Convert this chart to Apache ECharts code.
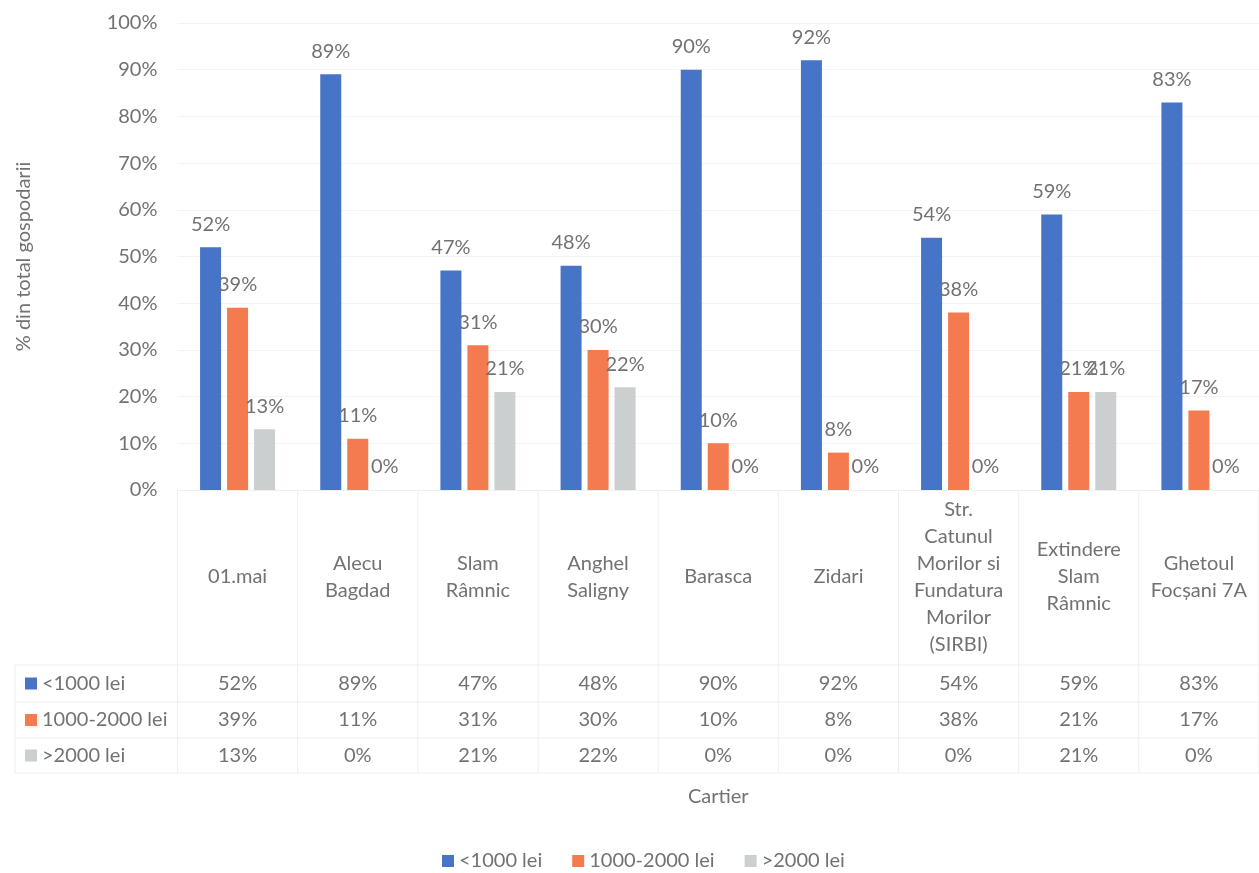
<!DOCTYPE html>
<html>
<head>
<meta charset="utf-8">
<script src="https://cdn.jsdelivr.net/npm/echarts@6/dist/echarts.min.js"></script>
<style>
  html, body { margin: 0; padding: 0; background: #fff; }
  #chart { width: 1259px; height: 873px; }
</style>
</head>
<body>
<div id="chart"></div>
<script>
const categories = ['01.mai', 'Alecu\nBagdad', 'Slam\nRâmnic', 'Anghel\nSaligny', 'Barasca', 'Zidari',
  'Str.\nCatunul\nMorilor si\nFundatura\nMorilor\n(SIRBI)', 'Extindere\nSlam\nRâmnic', 'Ghetoul\nFocșani 7A'];
const seriesNames = ['<1000 lei', '1000-2000 lei', '>2000 lei'];
const under1000 = [52, 89, 47, 48, 90, 92, 54, 59, 83];
const from1000to2000 = [39, 11, 31, 30, 10, 8, 38, 21, 17];
const over2000 = [13, 0, 21, 22, 0, 0, 0, 21, 0];
const seriesValues = [under1000, from1000to2000, over2000];
const yMin = 0, yMax = 100, yInterval = 10;
const yAxisTitle = '% din total gospodarii';
const xAxisTitle = 'Cartier';

const colors = ['#4674C6', '#F47A50', '#CBCFCF'];
const textColor = '#727272';
const fontFamily = 'Lato, "Open Sans", sans-serif';
const fs = 20;

const chart = echarts.init(document.getElementById('chart'), null, { renderer: 'canvas' });

const series = seriesNames.map((name, i) => ({
  name: name,
  type: 'bar',
  data: seriesValues[i],
  barWidth: 21,
  barGap: '28.6%',
  itemStyle: { color: colors[i] },
  label: {
    show: true,
    position: 'top',
    distance: 13,
    formatter: p => p.value + '%',
    color: textColor,
    fontFamily: fontFamily,
    fontSize: fs
  }
}));

chart.setOption({
  animation: false,
  textStyle: { fontFamily: fontFamily },
  grid: { left: 177.5, right: -12, top: 23, bottom: 383, containLabel: false },
  xAxis: {
    type: 'category',
    data: categories,
    axisLine: { show: true, lineStyle: { color: '#efefef' } },
    axisTick: { show: false },
    axisLabel: {
      interval: 0,
      margin: 87,
      verticalAlign: 'middle',
      lineHeight: 27,
      color: textColor,
      fontFamily: fontFamily,
      fontSize: fs
    },
    name: xAxisTitle,
    nameLocation: 'middle',
    nameGap: 297,
    nameTextStyle: { color: textColor, fontFamily: fontFamily, fontSize: fs }
  },
  yAxis: {
    type: 'value',
    min: yMin, max: yMax, interval: yInterval,
    axisLine: { show: false },
    axisTick: { show: false },
    splitLine: { lineStyle: { color: '#f3f3f3' } },
    axisLabel: {
      formatter: v => v + '%',
      margin: 20,
      color: textColor,
      fontFamily: fontFamily,
      fontSize: fs
    },
    name: yAxisTitle,
    nameLocation: 'middle',
    nameGap: 144,
    nameRotate: 90,
    nameTextStyle: { color: textColor, fontFamily: fontFamily, fontSize: fs }
  },
  legend: {
    data: seriesNames,
    bottom: -3,
    left: 437,
    itemWidth: 12,
    itemHeight: 12,
    itemGap: 30,
    icon: 'rect',
    textStyle: { color: textColor, fontFamily: fontFamily, fontSize: fs }
  },
  series: series
});

// Data table below the plot
function buildTable() {
  const centers = categories.map((c, i) => chart.convertToPixel({ xAxisIndex: 0 }, i));
  const step = centers.length > 1 ? centers[1] - centers[0] : 120;
  const plotBottom = chart.convertToPixel({ yAxisIndex: 0 }, yMin);
  const rowTops = [665, 702, 738, 773];
  const tableLeft = 15;
  const lineColor = '#eeeeee';
  const els = [];
  rowTops.forEach(y => {
    els.push({ type: 'line', shape: { x1: tableLeft, y1: y, x2: 1259, y2: y }, style: { stroke: lineColor, lineWidth: 1 }, silent: true });
  });
  els.push({ type: 'line', shape: { x1: tableLeft, y1: rowTops[0], x2: tableLeft, y2: rowTops[3] }, style: { stroke: lineColor, lineWidth: 1 }, silent: true });
  for (let i = 0; i <= centers.length; i++) {
    const x = centers[0] - step / 2 + i * step;
    els.push({ type: 'line', shape: { x1: x, y1: plotBottom, x2: x, y2: rowTops[3] }, style: { stroke: lineColor, lineWidth: 1 }, silent: true });
  }
  seriesNames.forEach((name, r) => {
    const yc = (rowTops[r] + rowTops[r + 1]) / 2;
    els.push({ type: 'rect', shape: { x: 25, y: yc - 6, width: 12, height: 12 }, style: { fill: colors[r] }, silent: true });
    els.push({ type: 'text', x: 42, y: yc, style: { text: name, fill: textColor, font: fs + 'px ' + fontFamily, verticalAlign: 'middle', align: 'left' }, silent: true });
    seriesValues[r].forEach((v, i) => {
      els.push({ type: 'text', x: centers[i], y: yc, style: { text: v + '%', fill: textColor, font: fs + 'px ' + fontFamily, verticalAlign: 'middle', align: 'center' }, silent: true });
    });
  });
  chart.setOption({ graphic: els });
}
buildTable();
</script>
</body>
</html>
